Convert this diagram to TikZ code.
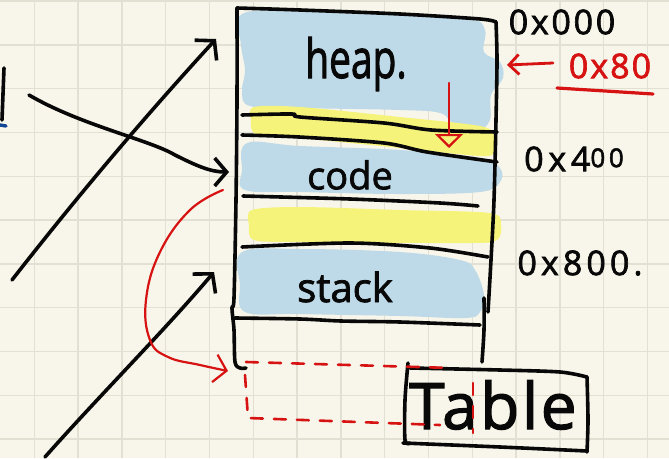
\documentclass[tikz,border=0pt]{standalone}
\usepackage{fontspec}
\setmainfont{Open Sans}
\newfontfamily\handfont{Open Sans}[FakeBold=2]
\usetikzlibrary{arrows.meta}
\definecolor{paper}{RGB}{248,246,234}
\definecolor{gridc}{RGB}{226,224,210}
\definecolor{hlblue}{RGB}{190,218,232}
\definecolor{hlyellow}{RGB}{245,243,122}
\definecolor{ink}{RGB}{8,8,8}
\definecolor{redink}{RGB}{214,18,18}
\definecolor{blueink}{RGB}{20,70,150}
\tikzset{
  gridline/.style={draw=gridc, line width=1.4pt},
  pen/.style={draw=ink, line width=3.6pt, line cap=round, line join=round},
  redpen/.style={draw=redink, line width=2.2pt, line cap=round, line join=round},
  reddash/.style={redpen, line width=2.6pt, dash pattern=on 12pt off 11pt},
  barb/.style={-{Straight Barb[length=13pt,width=30pt]}},
  hand/.style={inner sep=0pt, text=ink},
  redhand/.style={inner sep=0pt, text=redink},
}
\begin{document}
\begin{tikzpicture}[x=1pt,y=-1pt]
\useasboundingbox (0,0) rectangle (669,458);
\fill[paper] (0,0) rectangle (669,458);
\foreach \i in {1,...,15} \draw[gridline] ({-9.5+43.8*\i},0) -- ({-9.5+43.8*\i},458);
\foreach \j in {0,...,10} \draw[gridline] (0,{1+43.8*\j}) -- (669,{1+43.8*\j});

% highlights
\fill[hlblue] plot[smooth cycle, tension=0.6] coordinates {(242,14) (300,11) (400,15) (470,19) (485,30) (484,52) (500,62) (503,78) (491,95) (490,120) (478,130) (455,125) (440,113) (400,110) (300,108) (250,106) (242,92) (245,70) (241,45)};
\fill[hlyellow] plot[smooth cycle, tension=0.5] coordinates {(254,107) (300,107) (400,117) (480,126) (496,136) (495,152) (480,156) (400,148) (300,138) (256,134) (251,120)};
\fill[hlblue] plot[smooth cycle, tension=0.6] coordinates {(247,143) (300,146) (400,150) (480,158) (500,168) (500,182) (480,192) (400,194) (300,192) (245,190) (242,170)};
\fill[hlyellow] plot[smooth cycle, tension=0.5] coordinates {(252,210) (300,207) (400,210) (490,213) (501,225) (497,240) (470,243) (300,242) (254,240) (249,225)};
\fill[hlblue] plot[smooth cycle, tension=0.6] coordinates {(242,252) (300,249) (400,252) (460,260) (475,270) (484,295) (480,312) (465,318) (400,316) (300,314) (245,312) (240,285)};

% memory box
\draw[pen] plot[smooth] coordinates {(237,8) (300,10) (400,14) (480,19) (496,22)};
\draw[pen] plot[smooth] coordinates {(496,22) (497,60) (496,120) (494,200) (491,260) (488,312)};
\draw[pen] plot[smooth] coordinates {(484,298) (484,330) (482,362)};
\draw[pen] plot[smooth] coordinates {(237,8) (237,100) (236,200) (234,298) (232,308) (234,330) (235,362) (240,368) (246,368)};
\draw[pen] plot[smooth] coordinates {(242,115) (292,114) (300,117) (384,123) (431,130) (497,132)};
\draw[pen] plot[smooth] coordinates {(242,135) (299,137) (384,143) (427,152) (497,162)};
\draw[pen] plot[smooth] coordinates {(243,196) (350,199) (440,203) (478,206)};
\draw[pen] plot[smooth] coordinates {(242,247) (350,243) (430,248) (488,257)};
\draw[pen] plot[smooth] coordinates {(235,318) (300,319) (341,321) (400,322) (480,325)};

% segment labels
\node[hand, xscale=0.72, font=\handfont\fontsize{54}{56}\selectfont] (heap) at (356,64) {heap.};
\node[hand, font=\handfont\fontsize{38}{40}\selectfont] (code) at (350,175) {code};
\node[hand, font=\handfont\fontsize{40}{42}\selectfont] (stack) at (345,287) {stack};

% addresses
\node[hand, font=\handfont\fontsize{34}{36}\selectfont\addfontfeature{LetterSpace=8}] (a0) at (562,22) {0x000};
\node[redhand, font=\handfont\fontsize{34}{36}\selectfont\addfontfeature{LetterSpace=6}] (a80) at (610,66) {0x80};
\node[hand, font=\handfont\fontsize{34}{36}\selectfont\addfontfeature{LetterSpace=14}] (a400) at (574,159) {0x4\raisebox{4pt}{\fontsize{26}{28}\selectfont 00}};
\node[hand, font=\handfont\fontsize{34}{36}\selectfont\addfontfeature{LetterSpace=12}] (a800) at (580,263) {0x800.};
\coordinate (ul1) at (557,88);
\coordinate (ul2) at (653,94);
\draw[redpen, line width=3.2pt] (ul1) -- (ul2);
\coordinate (ra1) at (553,63);
\coordinate (ra2) at (507,65);
\draw[redpen, line width=2.8pt, -{Straight Barb[length=10pt,width=20pt]}] (ra1) -- (ra2);

% red down arrow
\coordinate (rd1) at (449,83);
\coordinate (rd2) at (449,148);
\draw[redpen, -{Triangle[open,length=14pt,width=28pt]}] (rd1) -- (rd2);

% left arrows
\coordinate (l1s) at (12,280);
\coordinate (l1e) at (216,39);
\draw[pen, barb] (l1s) .. controls (90,180) and (160,100) .. (l1e);
\coordinate (l2s) at (29,95);
\coordinate (l2e) at (229,172);
\draw[pen, -{Straight Barb[length=12pt,width=28pt]}] (l2s) .. controls (80,125) and (150,140) .. (175,155) .. controls (195,165) and (210,172) .. (l2e);
\coordinate (l3s) at (45,457);
\coordinate (l3e) at (214,272);
\draw[pen, barb] (l3s) .. controls (100,395) and (165,330) .. (l3e);

% small mark at far left
\draw[pen] (4,68) -- (2,120);
\draw[draw=blueink, line width=3.4pt, line cap=round] (0,125) -- (6,126);

% red curved arrow
\coordinate (rc1) at (223,190);
\coordinate (rc2) at (228,371);
\draw[redpen, -{Straight Barb[length=12pt,width=28pt]}] plot[smooth, tension=0.7] coordinates {(rc1) (190,210) (160,252) (146,300) (150,340) (168,357) (200,365) (rc2)};

% Table box
\draw[pen] plot[smooth] coordinates {(408,363) (405,400) (405,440) (410,443)};
\draw[pen] plot[smooth] coordinates {(410,368) (500,370) (560,372) (587,377)};
\draw[pen] plot[smooth] coordinates {(587,377) (588,420) (587,452)};
\draw[pen] plot[smooth] coordinates {(403,443) (500,447) (587,451)};
\node[hand, font=\handfont\fontsize{64}{66}\selectfont\addfontfeature{LetterSpace=4}] (table) at (493,405) {Table};

% red dashed box
\draw[reddash] (246,362) -- (452,368);
\draw[reddash] (245,375) -- (248,418) -- (440,425);
\draw[reddash] (473,383) -- (473,433);
\end{tikzpicture}
\end{document}
